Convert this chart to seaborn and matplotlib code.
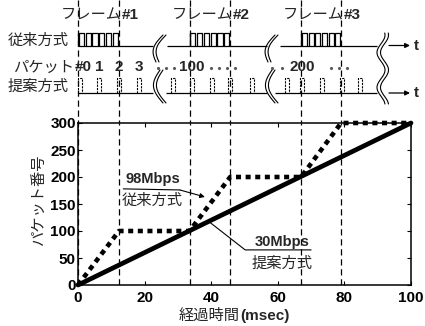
import numpy as np
import pandas as pd
import matplotlib
matplotlib.use("Agg")
import matplotlib.pyplot as plt
import seaborn as sns

# 経過時間 (msec) とパケット番号
time_conv = [0, 12.3, 33.5, 45.7, 67, 79, 100]
pkt_conv = [0, 100, 100, 200, 200, 300, 300]
time_prop = [0, 100]
pkt_prop = [0, 300]

# フレーム区間 (msec)
frame_start = [0, 33.5, 67]
frame_end = [12.3, 45.7, 79]
frame_names = ["#1", "#2", "#3"]

# 提案方式のパケット送出時刻 (msec)
prop_pulse = [0.7, 6.3, 12.3, 18.3, 28.5, 34.2, 40.2, 45.7, 52.2,
              62.8, 67.3, 73.3, 79.2, 84.7]
pkt_text = ["1", "2", "3", "100", "200"]
pkt_idx = [1, 2, 3, 5, 10]

x_ticks = [0, 20, 40, 60, 80, 100]
y_ticks = [0, 50, 100, 150, 200, 250, 300]

W, H = 425, 326
sns.set_theme(style="ticks")
plt.rcParams['font.family'] = ['Noto Sans CJK JP', 'DejaVu Sans']
NUM = ['Liberation Sans', 'DejaVu Sans']
JP = 11

fig = plt.figure(figsize=(W / 100, H / 100), dpi=100)
ax = fig.add_axes([78 / W, 1 - 285 / H, (411 - 78) / W, (285 - 123) / H])
top = fig.add_axes([0, 1 - 123 / H, 1, 123 / H])


def ms(px):
    return (px - 78) / 3.33


# ---------- main plot ----------
df_conv = pd.DataFrame({'t': time_conv, 'pkt': pkt_conv})
df_prop = pd.DataFrame({'t': time_prop, 'pkt': pkt_prop})
sns.lineplot(data=df_prop, x='t', y='pkt', ax=ax, color='black', lw=3.4,
             errorbar=None, sort=False, clip_on=False, zorder=4)
sns.lineplot(data=df_conv, x='t', y='pkt', ax=ax, color='black', lw=3.3,
             errorbar=None, sort=False, clip_on=False, zorder=5,
             linestyle=(0, (1.1, 1.0)), dash_capstyle='butt')

for x in frame_start + frame_end:
    ax.axvline(x, color='black', lw=0.9, ls=(0, (5, 3)), zorder=1)

ax.set_xlim(0, 100)
ax.set_ylim(0, 300)
ax.set_xticks(x_ticks)
ax.set_yticks(y_ticks)
ax.set_xlabel('')
ax.set_ylabel('')
for s in ax.spines.values():
    s.set_visible(True)
    s.set_linewidth(1.1)
    s.set_color('black')
ax.tick_params(direction='in', length=3, width=0.8, top=True, right=True,
               pad=1.5, colors='black')
ax.tick_params(axis='x', pad=4)
for lab in ax.get_xticklabels() + ax.get_yticklabels():
    lab.set_fontfamily(NUM)
    lab.set_fontweight('bold')
    lab.set_fontsize(11)

# annotations
ax.text(22.4, 196, '98Mbps', family=NUM, weight='bold', fontsize=10.5,
        ha='center', va='center')
ax.text(22.4, 156, '従来方式', fontsize=JP, ha='center', va='center')
ax.plot([13.6, 30.6], [178, 176], color='black', lw=0.8)
ax.annotate('', xy=(38.1, 163), xytext=(30.6, 176),
            arrowprops=dict(arrowstyle='-|>', color='black', lw=0.8,
                            mutation_scale=7, shrinkA=0, shrinkB=0))
ax.text(61.3, 79, '30Mbps', family=NUM, weight='bold', fontsize=10.5,
        ha='center', va='center')
ax.text(61.3, 40, '提案方式', fontsize=JP, ha='center', va='center')
ax.plot([39.6, 50.2, 70], [116, 65, 65], color='black', lw=0.8)

fig.text(38 / W, 1 - 200 / H, 'パケット番号', rotation=90, fontsize=JP,
         ha='center', va='center')
fig.text(240 / W, 1 - 320 / H, '経過時間', fontsize=JP, ha='right',
         va='baseline')
fig.text(240 / W, 1 - 320 / H, '(msec)', family=NUM, weight='bold',
         fontsize=JP, ha='left', va='baseline')

# ---------- top schematic ----------
top.set_xlim(ms(0), ms(W))
top.set_ylim(123, 0)
top.axis('off')

y1, y1t = 45.5, 32.5
y2, y2t = 93, 78
ylab = 67
k = dict(color='black', lw=0.9, solid_capstyle='butt')

for x in frame_start + frame_end:
    top.vlines(x, 0, 123, color='black', lw=0.9, ls=(0, (5, 3)), zorder=1)

# baselines
for a, b in [(78, 153), (167, 267), (280, 377)]:
    top.plot([ms(a), ms(b)], [y1, y1], **k)
for a, b in [(78, 153), (166, 267), (275, 377)]:
    top.plot([ms(a), ms(b)], [y2, y2], **k)

# 従来方式: 6 packets packed in each frame
for s, e, name in zip(frame_start, frame_end, frame_names):
    cw = (e - s) / 6
    for i in range(6):
        x0 = s + i * cw + 0.25
        x1 = s + (i + 1) * cw - 0.25
        top.plot([x0, x0, x1, x1], [y1, y1t, y1t, y1], **k)
    top.plot([s, s], [y1, y1t], **k)
    top.text(e + 0.8, 15, 'フレーム', fontsize=JP, ha='right', va='center')
    top.text(e + 0.8, 15, name, family=NUM, weight='bold', fontsize=JP,
             ha='left', va='center')

# 提案方式: spread packets
for p in prop_pulse:
    top.plot([p - 0.6, p - 0.6, p + 0.6, p + 0.6], [y2, y2t, y2t, y2],
             color='black', lw=0.8, ls=(0, (2, 1)))

top.text(ms(69), 40, '従来方式', fontsize=JP, ha='right', va='center')
top.text(ms(69), 86, '提案方式', fontsize=JP, ha='right', va='center')
top.text(ms(74), ylab, 'パケット', fontsize=JP, ha='right', va='center')
top.text(ms(75), ylab, '#0', family=NUM, weight='bold', fontsize=JP,
         ha='left', va='center')
for txt, i in zip(pkt_text, pkt_idx):
    top.text(prop_pulse[i], ylab, txt, family=NUM, weight='bold',
             fontsize=JP, ha='center', va='center')
for px in [158, 166, 174, 211, 219, 227, 235, 272, 282, 331, 339, 347]:
    top.plot(ms(px), ylab + 1, marker='.', ms=2.5, color='0.35')

# break marks
t = np.linspace(0, 1, 40)
for dx in [0, 112]:
    for off in [0, 3]:
        yy = 35 + 27 * t
        xx = 163 - 7 * t - 6 * np.sin(np.pi * t) + dx + off
        top.plot(ms(xx), yy, color='black', lw=0.8)
        yy = 70 + 33 * t
        xx = 160 + 3 * t - 8 * np.sin(np.pi * t) + dx + off
        top.plot(ms(xx), yy, color='black', lw=0.8)
yy = np.linspace(33, 104, 120)
for off in [0, 3.5]:
    top.plot(ms(381 + off + 4 * np.cos(2 * np.pi * (yy - 35) / 35)), yy,
             color='black', lw=0.8)

# time arrows
for y in [y1, y2]:
    top.annotate('', xy=(ms(410), y), xytext=(ms(389), y),
                 arrowprops=dict(arrowstyle='-|>', color='black', lw=0.9,
                                 mutation_scale=7, shrinkA=0, shrinkB=0))
    top.text(ms(414), y, 't', family=NUM, weight='bold', fontsize=JP,
             ha='left', va='center')

fig.savefig('out.png', dpi=100)
